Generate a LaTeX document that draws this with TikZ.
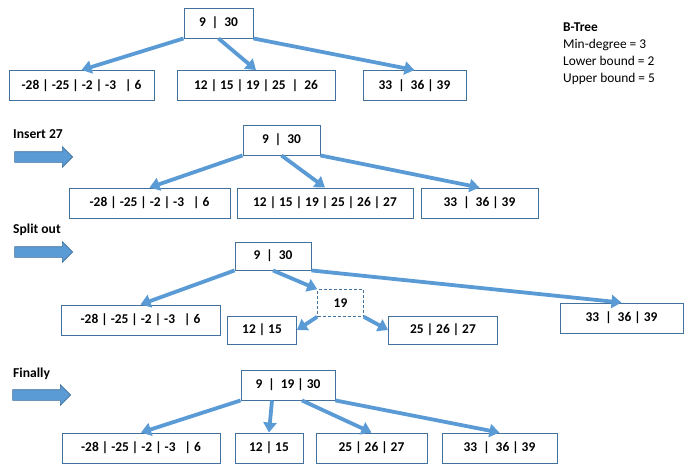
\documentclass[tikz,border=0pt]{standalone}
\usepackage{fontspec}
\setmainfont{Carlito}
\usetikzlibrary{arrows.meta,shapes.arrows}
\definecolor{arrowblue}{HTML}{5B9BD5}
\definecolor{boxblue}{HTML}{41719C}
\newcommand{\vsep}{\ |\ }
\newcommand{\wsep}{\ \ |\ \ }

\tikzset{
  key/.style={draw=boxblue, line width=0.9pt, fill=white, inner sep=0pt, minimum height=30pt, font=\fontsize{13.4}{16}\selectfont\bfseries},
  link/.style={draw=arrowblue, line width=3.8pt, -{Triangle[length=10pt,width=13pt]}},
  fat/.style={single arrow, fill=arrowblue, draw=boxblue, line width=0.6pt, inner xsep=0pt, inner ysep=5pt, minimum height=58pt, minimum width=20pt, single arrow head extend=5pt},
  caption/.style={anchor=west, inner sep=0pt, font=\fontsize{13.6}{16}\selectfont\bfseries}
}

\begin{document}
\begin{tikzpicture}[x=1pt,y=-1pt]
\useasboundingbox (0,0) rectangle (686,472);

% first tree
\node[key, minimum width=69pt] (root1) at (218.5,23) {9\wsep30};
\node[key, minimum width=145pt] (a1) at (81.5,85.5) {-28\vsep-25\vsep-2\vsep-3\ \ \vsep6};
\node[key, minimum width=158pt] (b1) at (256,85.5) {12\vsep15\vsep19\vsep25\wsep26};
\node[key, minimum width=103pt] (c1) at (414.5,85.5) {33\wsep36\vsep39};
\draw[link] (root1.south west) -- (a1.north);
\draw[link] (root1.south) -- (b1.north);
\draw[link] (root1.south east) -- (c1.north);

% legend
\node[anchor=north west, align=left, inner sep=0pt, font=\fontsize{13.4}{17}\selectfont] (legend) at (563,23)
  {\textbf{B-Tree}\\Min-degree = 3\\Lower bound = 2\\Upper bound = 5};

% insert 27
\node[caption] (ins) at (13,134) {Insert 27};
\node[fat] (go2) at (41,157) {};
\node[key, minimum width=77pt] (root2) at (281.5,140) {9\wsep30};
\node[key, minimum width=161pt] (a2) at (149.5,203) {-28\vsep-25\vsep-2\vsep-3\ \ \vsep6};
\node[key, minimum width=176pt] (b2) at (325,203) {12\vsep15\vsep19\vsep25\vsep26\vsep27};
\node[key, minimum width=117pt] (c2) at (479.5,203) {33\wsep36\vsep39};
\draw[link] (root2.south west) -- (a2.north);
\draw[link] (root2.south) -- (b2.north);
\draw[link] (root2.south east) -- (c2.north);

% split out
\node[caption] (spl) at (13,230) {Split out};
\node[fat] (go3) at (41,252) {};
\node[key, minimum width=76pt, minimum height=28pt] (root3) at (273,256) {9\wsep30};
\node[key, minimum width=159pt] (a3) at (140.5,320) {-28\vsep-25\vsep-2\vsep-3\ \ \vsep6};
\node[key, densely dashed, line width=0.6pt, minimum width=46pt, minimum height=27pt] (mid3) at (340.5,303) {19};
\node[key, minimum width=69pt, minimum height=28pt] (b3) at (262,330) {12\vsep15};
\node[key, minimum width=109pt, minimum height=28pt] (c3) at (443,330) {25\vsep26\vsep27};
\node[key, minimum width=123pt] (d3) at (621.5,318) {33\wsep36\vsep39};
\draw[link] (root3.south west) -- (a3.north);
\draw[link] (root3.south) -- (mid3.north west);
\draw[link] (root3.south east) -- (d3.north);
\draw[link] (mid3.south west) -- (b3.east);
\draw[link] (mid3.south east) -- (c3.west);

% finally
\node[caption] (fin) at (13,374) {Finally};
\node[fat] (go4) at (39,395) {};
\node[key, minimum width=94pt] (root4) at (288,385) {9\wsep19\vsep30};
\node[key, minimum width=158pt] (a4) at (141,448) {-28\vsep-25\vsep-2\vsep-3\ \ \vsep6};
\node[key, minimum width=68pt] (b4) at (269,448) {12\vsep15};
\node[key, minimum width=111pt] (c4) at (371.5,448) {25\vsep26\vsep27};
\node[key, minimum width=115pt] (d4) at (499.5,448) {33\wsep36\vsep39};
\draw[link] (root4.south west) -- (a4.north);
\draw[link] ([xshift=-16pt]root4.south) -- (b4.north);
\draw[link] ([xshift=14pt]root4.south) -- (c4.north);
\draw[link] (root4.south east) -- (d4.north);
\end{tikzpicture}
\end{document}
